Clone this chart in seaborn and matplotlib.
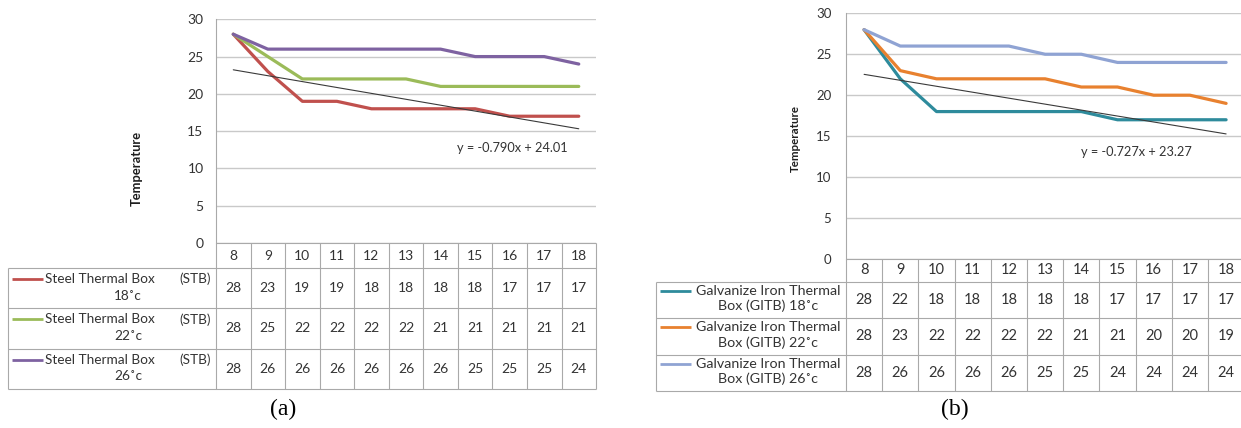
import numpy as np
import pandas as pd
import matplotlib
matplotlib.use("Agg")
import matplotlib.pyplot as plt
import seaborn as sns

# ---------------- data ----------------
hours = [8, 9, 10, 11, 12, 13, 14, 15, 16, 17, 18]
y_ticks = [0, 5, 10, 15, 20, 25, 30]

stb_18 = [28, 23, 19, 19, 18, 18, 18, 18, 17, 17, 17]
stb_22 = [28, 25, 22, 22, 22, 22, 21, 21, 21, 21, 21]
stb_26 = [28, 26, 26, 26, 26, 26, 26, 25, 25, 25, 24]

gitb_18 = [28, 22, 18, 18, 18, 18, 18, 17, 17, 17, 17]
gitb_22 = [28, 23, 22, 22, 22, 22, 21, 21, 20, 20, 19]
gitb_26 = [28, 26, 26, 26, 26, 25, 25, 24, 24, 24, 24]

stb_names = ["STB 18", "STB 22", "STB 26"]
gitb_names = ["GITB 18", "GITB 22", "GITB 26"]

stb_label_lines = [("Steel Thermal Box", "(STB)", "18˚c"),
                   ("Steel Thermal Box", "(STB)", "22˚c"),
                   ("Steel Thermal Box", "(STB)", "26˚c")]
gitb_label_lines = [("Galvanize Iron Thermal", "Box (GITB) 18˚c"),
                    ("Galvanize Iron Thermal", "Box (GITB) 22˚c"),
                    ("Galvanize Iron Thermal", "Box (GITB) 26˚c")]

stb_colors = ["#C0504D", "#9BBB59", "#7E62A1"]
gitb_colors = ["#2E8B9C", "#E8812F", "#8FA3D3"]

stb_equation = "y = -0.790x + 24.01"
gitb_equation = "y = -0.727x + 23.27"
y_title = "Temperature"
panel_tags = ["(a)", "(b)"]

# ---------------- style ----------------
sns.set_theme(style="white")
plt.rcParams["font.family"] = ["Lato", "DejaVu Sans"]

W, H = 1241, 428
fig = plt.figure(figsize=(W / 100, H / 100), dpi=100)

GRID = "#C9C9C9"
BORDER = "#A9A9A9"
TXT = "#333333"


def draw_panel(values, names, colors, label_lines, equation, tag, geo):
    n = len(hours)
    L, colw, T, B0 = geo["L"], geo["colw"], geo["T"], geo["B0"]
    TL, hh, rh = geo["TL"], geo["hh"], geo["rh"]
    R = L + n * colw
    TB = B0 + hh + len(values) * rh

    # ---- line chart ----
    ax = fig.add_axes([L / W, 1 - B0 / H, (R - L) / W, (B0 - T) / H])
    df = pd.DataFrame({
        "hour": hours * len(values),
        "temp": sum(values, []),
        "series": np.repeat(names, n),
    })
    sns.lineplot(data=df, x="hour", y="temp", hue="series", hue_order=names,
                 palette=colors, linewidth=2.3, legend=False, ax=ax, sort=False)
    k = np.arange(1, n + 1)
    slope, icpt = np.polyfit(k, values[0], 1)
    ax.plot(hours, slope * k + icpt, color="#3A3A3A", lw=0.8)
    ax.set_xlim(hours[0] - 0.5, hours[-1] + 0.5)
    ax.set_ylim(0, 30)
    ax.set_yticks(y_ticks)
    ax.set_xticks([])
    ax.yaxis.grid(True, color=GRID, lw=1.0)
    ax.set_axisbelow(True)
    for s in ["top", "right", "bottom"]:
        ax.spines[s].set_visible(False)
    ax.spines["left"].set_color(BORDER)
    ax.spines["left"].set_linewidth(0.8)
    ax.tick_params(axis="y", length=0, pad=geo["pad"], labelsize=geo["tick"],
                   labelcolor=TXT)
    ax.set_xlabel("")
    ax.set_ylabel("")
    ax.text(geo["eq_x"], geo["eq_y"], equation, ha="center", va="center",
            fontsize=geo["eqfs"], color=TXT)
    fig.text(geo["yl_x"] / W, 1 - geo["yl_y"] / H, y_title, rotation=90,
             ha="center", va="center", fontsize=geo["ylfs"], weight="bold",
             color="#1E1E1E")

    # ---- data table ----
    tab = fig.add_axes([TL / W, 1 - TB / H, (R - TL) / W, (TB - B0) / H])
    x0 = hours[0] - 0.5

    def px2x(px):
        return x0 + (px - L) / colw

    tab.set_xlim(px2x(TL), hours[-1] + 0.5)
    tab.set_ylim(TB - B0, 0)
    tab.axis("off")
    edges = x0 + np.arange(n + 1)
    tab.vlines(edges, 0, TB - B0, color=BORDER, lw=0.8, clip_on=False)
    tab.vlines(px2x(TL), hh, TB - B0, color=BORDER, lw=0.8, clip_on=False)
    row_edges = hh + rh * np.arange(len(values) + 1)
    tab.hlines(row_edges, px2x(TL), edges[-1], color=BORDER, lw=0.8, clip_on=False)
    tab.hlines(0, edges[0], edges[-1], color=BORDER, lw=0.8, clip_on=False)
    for h in hours:
        tab.text(h, hh / 2, str(h), ha="center", va="center",
                 fontsize=geo["cellfs"], color=TXT)
    for i, vals in enumerate(values):
        top = hh + rh * i
        for h, v in zip(hours, vals):
            tab.text(h, top + rh / 2, str(v), ha="center", va="center",
                     fontsize=geo["cellfs"], color=TXT)
        y1 = top + geo["l1"]
        y2 = top + geo["l2"]
        tab.plot([px2x(geo["sw0"]), px2x(geo["sw1"])], [y1, y1],
                 color=colors[i], lw=2.0, solid_capstyle="butt", clip_on=False)
        lines = label_lines[i]
        if len(lines) == 3:
            tab.text(px2x(geo["txt0"]), y1, lines[0], ha="left", va="center",
                     fontsize=geo["labfs"], color=TXT)
            tab.text(px2x(geo["txt1"]), y1, lines[1], ha="right", va="center",
                     fontsize=geo["labfs"], color=TXT)
            tab.text(px2x(geo["txtc"]), y2, lines[2], ha="center", va="center",
                     fontsize=geo["labfs"], color=TXT)
        else:
            tab.text(px2x(geo["txtc"]), y1, lines[0], ha="center", va="center",
                     fontsize=geo["labfs"], color=TXT)
            tab.text(px2x(geo["txtc"]), y2, lines[1], ha="center", va="center",
                     fontsize=geo["labfs"], color=TXT)
    fig.text(geo["tag_x"] / W, 1 - geo["tag_y"] / H, tag,
             ha="center", va="center", fontsize=17, family="Liberation Serif",
             color="black")


geo_a = dict(L=216, colw=34.55, T=19.3, B0=243, TL=8, hh=25, rh=40.3,
             pad=9, tick=10, eq_x=16.07, eq_y=12.7, eqfs=9.2,
             yl_x=137, yl_y=168, ylfs=9.3, cellfs=10, labfs=9.8,
             l1=11, l2=27.7, sw0=12, sw1=43, txt0=45, txt1=211, txtc=128,
             tag_x=283, tag_y=409)
geo_b = dict(L=846, colw=36.2, T=13.3, B0=259, TL=656, hh=22.7, rh=36.4,
             pad=10.5, tick=9.5, eq_x=15.52, eq_y=13.1, eqfs=9.2,
             yl_x=795, yl_y=139, ylfs=8.3, cellfs=10.5, labfs=10.3,
             l1=9.3, l2=24.3, sw0=660, sw1=691, txt0=694, txt1=841, txtc=768,
             tag_x=955, tag_y=409)

draw_panel([stb_18, stb_22, stb_26], stb_names, stb_colors, stb_label_lines,
           stb_equation, panel_tags[0], geo_a)
draw_panel([gitb_18, gitb_22, gitb_26], gitb_names, gitb_colors, gitb_label_lines,
           gitb_equation, panel_tags[1], geo_b)

fig.savefig("out.png", dpi=100, facecolor="white")
